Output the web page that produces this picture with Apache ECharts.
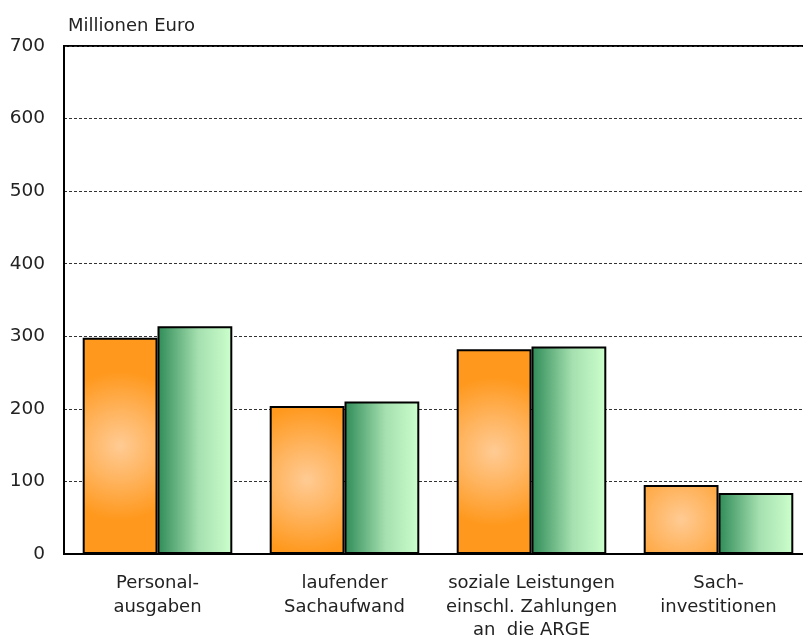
<!DOCTYPE html>
<html>
<head>
<meta charset="utf-8">
<title>Ausgaben</title>
<script src="https://cdn.jsdelivr.net/npm/echarts@6/dist/echarts.min.js"></script>
<style>
  html, body { margin: 0; padding: 0; background: #fff; }
  #chart { width: 803px; height: 641px; }
</style>
</head>
<body>
<div id="chart"></div>
<script>
// Kategorien und Werte (Millionen Euro)
const categories = [
  'Personal-\nausgaben',
  'laufender\nSachaufwand',
  'soziale Leistungen\neinschl. Zahlungen\nan  die ARGE',
  'Sach-\ninvestitionen'
]
const valuesA = [298, 204, 282, 95]
const valuesB = [314, 210, 286, 84]
const yTicks = [0, 100, 200, 300, 400, 500, 600, 700]

const chart = echarts.init(document.getElementById('chart'))

// orange Balken: von der Mitte heller
const orangeFill = {
  type: 'radial', x: 0.5, y: 0.5, r: 1,
  colorStops: [
    { offset: 0, color: '#ffcb94' },
    { offset: 0.5, color: '#ffb25a' },
    { offset: 1, color: '#ff981c' }
  ]
}
// gruene Balken: links dunkel, rechts hell
const greenFill = {
  type: 'linear', x: 0, y: 0, x2: 1, y2: 0,
  colorStops: [
    { offset: 0, color: '#2e8b57' },
    { offset: 0.55, color: '#a6e0b0' },
    { offset: 1, color: '#ccffcc' }
  ]
}

const option = {
  animation: false,
  textStyle: { fontFamily: 'DejaVu Sans, sans-serif' },
  title: {
    text: 'Millionen Euro',
    left: 63,
    top: 12,
    textStyle: { fontSize: 18, fontWeight: 'normal', color: '#222', fontFamily: 'DejaVu Sans' }
  },
  grid: {
    left: 64,
    top: 46,
    bottom: 87,
    width: 748,
    show: true,
    borderColor: '#000',
    borderWidth: 2,
    containLabel: false,
    outerBoundsMode: 'none'
  },
  xAxis: {
    type: 'category',
    data: categories,
    axisLine: { lineStyle: { color: '#000', width: 2 } },
    axisTick: { show: false },
    axisLabel: {
      interval: 0,
      margin: 18,
      fontSize: 18,
      lineHeight: 23.5,
      color: '#222',
      align: 'center'
    }
  },
  yAxis: {
    type: 'value',
    min: yTicks[0],
    max: yTicks[yTicks.length - 1],
    interval: 100,
    axisLine: { show: true, lineStyle: { color: '#000', width: 2 } },
    axisTick: { show: false },
    axisLabel: { margin: 19, fontSize: 18.5, color: '#222' },
    splitLine: { lineStyle: { color: '#333', width: 1, type: [3, 2] } }
  },
  series: [
    {
      name: 'A',
      type: 'bar',
      data: valuesA,
      barGap: '0%',
      barCategoryGap: '20%',
      itemStyle: { color: orangeFill, borderColor: '#000', borderWidth: 2 }
    },
    {
      name: 'B',
      type: 'bar',
      data: valuesB,
      itemStyle: { color: greenFill, borderColor: '#000', borderWidth: 2 }
    }
  ]
}

chart.setOption(option)
</script>
</body>
</html>
